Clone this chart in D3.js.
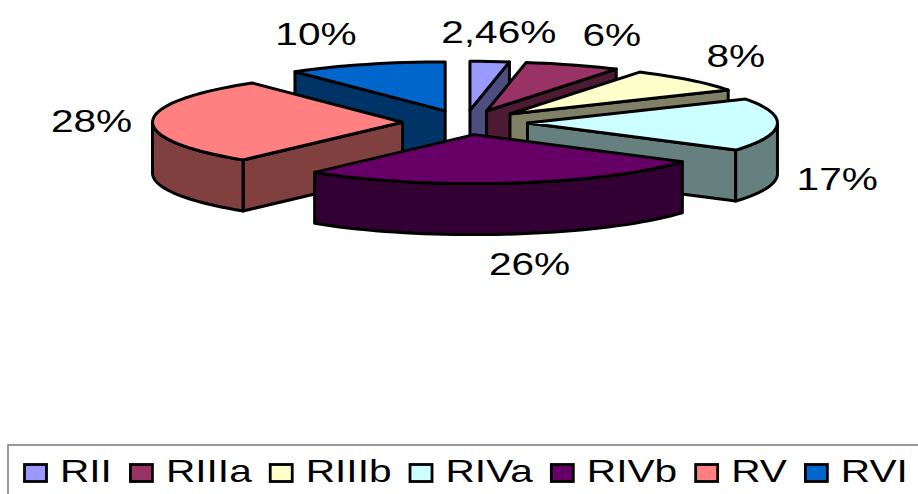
<!DOCTYPE html>
<html>
<head>
<meta charset="utf-8">
<script src="https://cdn.jsdelivr.net/npm/d3@7"></script>
<style>
  html, body { margin: 0; padding: 0; background: #fff; }
  svg { display: block; }
  text { font-family: "Liberation Sans", Arial, sans-serif; fill: #000; }
</style>
</head>
<body>
<div id="chart"></div>
<script>
const categories = ['RII', 'RIIIa', 'RIIIb', 'RIVa', 'RIVb', 'RV', 'RVI']
const shares = [2.46, 6, 8, 17, 26, 28, 10]
const colors = ['#9999ff', '#993366', '#ffffcc', '#ccffff', '#660066', '#ff8080', '#0066cc']

const width = 918
const height = 494

// Pie geometry
const cx = 465
const cy = 122.5
const rx = 250
const ry = 49
const depth = 51
const explode = 0.25

// Label shift from the rim point of each slice
const labelNudge = [[9, -29], [39, -30], [46, -24], [60, 54], [19, 81], [-61, 0], [-50, -30]]
// Back slices first, the big front one last
const drawOrder = [6, 5, 0, 1, 2, 3, 4]

// The picture is stretched sideways, text too
const textStretch = 1.27

const svg = d3.select('#chart').append('svg')
  .attr('width', width)
  .attr('height', height)

const x = d3.scaleLinear().domain([-1, 1]).range([-rx, rx])
const y = d3.scaleLinear().domain([-1, 1]).range([ry, -ry])

const pie = d3.pie().sort(null).value(function (d) { return d })
const slices = pie(shares)

const line = d3.line()

function halfDark (c) {
  const rgb = d3.rgb(c)
  return d3.rgb(rgb.r / 2, rgb.g / 2, rgb.b / 2).formatHex()
}

// Apex of a slice after it is pulled out of the pie
function apexOf (s) {
  const mid = (s.startAngle + s.endAngle) / 2
  return [cx + x(Math.sin(mid) * explode), cy + y(Math.cos(mid) * explode)]
}

function rimPoint (apex, angle, drop) {
  return [apex[0] + x(Math.sin(angle)), apex[1] + y(Math.cos(angle)) + (drop || 0)]
}

function arcPoints (apex, a0, a1, drop) {
  const n = Math.max(2, Math.ceil((a1 - a0) * 24))
  return d3.range(n + 1).map(function (i) {
    return rimPoint(apex, a0 + (a1 - a0) * i / n, drop)
  })
}

function wallFace (apex, angle) {
  const p = rimPoint(apex, angle)
  return [apex, p, [p[0], p[1] + depth], [apex[0], apex[1] + depth]]
}

const pieGroup = svg.append('g')

drawOrder.forEach(function (i) {
  const s = slices[i]
  const apex = apexOf(s)
  const dark = halfDark(colors[i])
  const g = pieGroup.append('g')
    .attr('stroke', '#000')
    .attr('stroke-width', 3)
    .attr('stroke-linejoin', 'round')

  function wall (points) {
    g.append('path').attr('d', line(points) + 'Z').attr('fill', dark)
  }

  // Cut faces turned towards the viewer
  if (Math.sin(s.startAngle) < -0.001) wall(wallFace(apex, s.startAngle))
  if (Math.sin(s.endAngle) > 0.001) wall(wallFace(apex, s.endAngle))

  // Outer wall, only the front half of the rim shows
  const a0 = Math.max(s.startAngle, Math.PI / 2)
  const a1 = Math.min(s.endAngle, Math.PI * 3 / 2)
  if (a1 > a0) {
    wall(arcPoints(apex, a0, a1, 0).concat(arcPoints(apex, a0, a1, depth).reverse()))
  }

  g.append('path')
    .attr('d', line([apex].concat(arcPoints(apex, s.startAngle, s.endAngle, 0))) + 'Z')
    .attr('fill', colors[i])
})

// Data labels
slices.forEach(function (s, i) {
  const mid = (s.startAngle + s.endAngle) / 2
  const p = rimPoint(apexOf(s), mid)
  svg.append('text')
    .attr('transform', 'translate(' + (p[0] + labelNudge[i][0]) + ',' + (p[1] + labelNudge[i][1] + 11) + ') scale(' + textStretch + ',1)')
    .attr('text-anchor', 'middle')
    .style('font-size', '32px')
    .text(String(shares[i]).replace('.', ',') + '%')
})

// Legend, box runs off the right and bottom edges
svg.append('rect')
  .attr('x', 8)
  .attr('y', 445)
  .attr('width', width)
  .attr('height', 100)
  .attr('fill', '#fff')
  .attr('stroke', '#808080')
  .attr('stroke-width', 1.6)

let legendX = 24.5
categories.forEach(function (name, i) {
  const item = svg.append('g')
  item.append('rect')
    .attr('x', legendX)
    .attr('y', 464.5)
    .attr('width', 22)
    .attr('height', 17)
    .attr('fill', colors[i])
    .attr('stroke', '#000')
    .attr('stroke-width', 2.8)
  const label = item.append('text')
    .attr('transform', 'translate(' + (legendX + 35.5) + ',481.5) scale(' + textStretch + ',1)')
    .style('font-size', '32px')
    .text(name)
  legendX += 35.5 + label.node().getComputedTextLength() * textStretch + 18.5
})
</script>
</body>
</html>
